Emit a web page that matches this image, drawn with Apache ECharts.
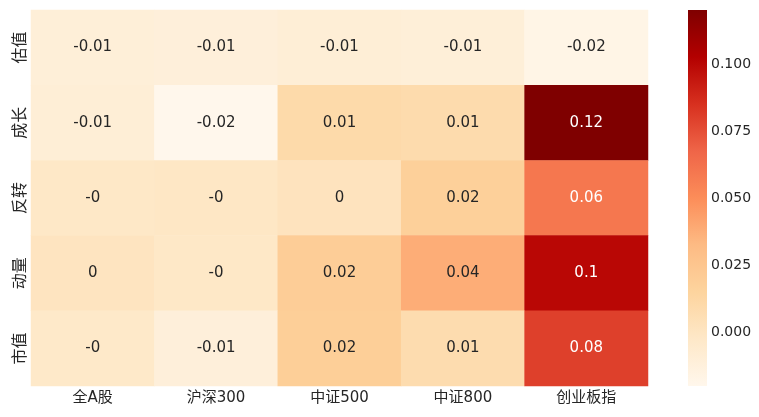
<!DOCTYPE html>
<html>
<head>
<meta charset="utf-8">
<script src="https://cdn.jsdelivr.net/npm/echarts@6/dist/echarts.min.js"></script>
<style>html,body{margin:0;padding:0;background:#fff}#c{width:759px;height:417px}</style>
</head>
<body>
<div id="c"></div>
<script>
const rows = ['估值', '成长', '反转', '动量', '市值'];
const cols = ['全A股', '沪深300', '中证500', '中证800', '创业板指'];
const val_guzhi   = [-0.010, -0.011, -0.009, -0.010, -0.017];
const val_chengzhang = [-0.009, -0.0198, 0.010, 0.009, 0.1202];
const val_fanzhuan = [-0.002, -0.001, 0.002, 0.018, 0.060];
const val_dongliang = [0.001, -0.002, 0.020, 0.038, 0.100];
const val_shizhi  = [-0.003, -0.011, 0.019, 0.008, 0.080];
const colorbarTicks = [0, 0.025, 0.05, 0.075, 0.1];
const vMin = -0.0198, vMax = 0.1202;
const palette = ['#fff7ec','#fee8c8','#fdd49e','#fdbb84','#fc8d59','#ef6548','#d7301f','#b30000','#7f0000'];

const matrix = [val_guzhi, val_chengzhang, val_fanzhuan, val_dongliang, val_shizhi];
const data = [];
matrix.forEach((r, i) => r.forEach((v, j) => {
  data.push({value: [j, i, v], label: {color: v > 0.05 ? '#ffffff' : '#262626'}});
}));

function fmt(v) {
  let r = Math.round(v * 100) / 100;
  if (r === 0) return v < 0 ? '-0' : '0';
  return String(r);
}

const FONT = '"DejaVu Sans", "Noto Sans CJK SC", sans-serif';
const chart = echarts.init(document.getElementById('c'));
chart.setOption({
  animation: false,
  grid: [
    {left: 31, right: 111, top: 10, bottom: 31},
    {left: 688, width: 19, top: 10, bottom: 31}
  ],
  xAxis: [
    {type: 'category', data: cols, gridIndex: 0, axisLine: {show: false}, axisTick: {show: false}, splitLine: {show: false},
     axisLabel: {color: '#262626', fontSize: 15, fontFamily: FONT, margin: 5}},
    {type: 'value', gridIndex: 1, show: false, min: 0, max: 1}
  ],
  yAxis: [
    {type: 'category', data: rows, gridIndex: 0, inverse: true, axisLine: {show: false}, axisTick: {show: false}, splitLine: {show: false},
     axisLabel: {color: '#262626', fontSize: 16, fontFamily: '"Noto Sans CJK SC", sans-serif', rotate: 90, margin: 4}},
    {type: 'value', gridIndex: 1, position: 'right', min: vMin, max: vMax,
     axisLine: {show: false}, axisTick: {show: false}, splitLine: {show: false},
     axisLabel: {customValues: colorbarTicks, formatter: v => v.toFixed(3), color: '#262626', fontSize: 14, fontFamily: FONT, margin: 4}}
  ],
  visualMap: {
    type: 'continuous', min: vMin, max: vMax, seriesIndex: 0, show: false,
    inRange: {color: palette}
  },
  series: [{
    type: 'heatmap', xAxisIndex: 0, yAxisIndex: 0, data: data,
    label: {show: true, formatter: p => fmt(p.value[2]), fontSize: 15, fontFamily: FONT},
    emphasis: {disabled: true}
  }, {
    type: 'custom', xAxisIndex: 1, yAxisIndex: 1, silent: true,
    data: [[0, vMin, 1, vMax]],
    renderItem: function (params, api) {
      const p0 = api.coord([api.value(0), api.value(1)]);
      const p1 = api.coord([api.value(2), api.value(3)]);
      const stops = palette.map((c, i) => ({offset: 1 - i / (palette.length - 1), color: c}));
      stops.reverse();
      return {
        type: 'rect',
        shape: {x: p0[0], y: p1[1], width: p1[0] - p0[0], height: p0[1] - p1[1]},
        style: {fill: new echarts.graphic.LinearGradient(0, 0, 0, 1, stops)}
      };
    }
  }]
});
</script>
</body>
</html>
